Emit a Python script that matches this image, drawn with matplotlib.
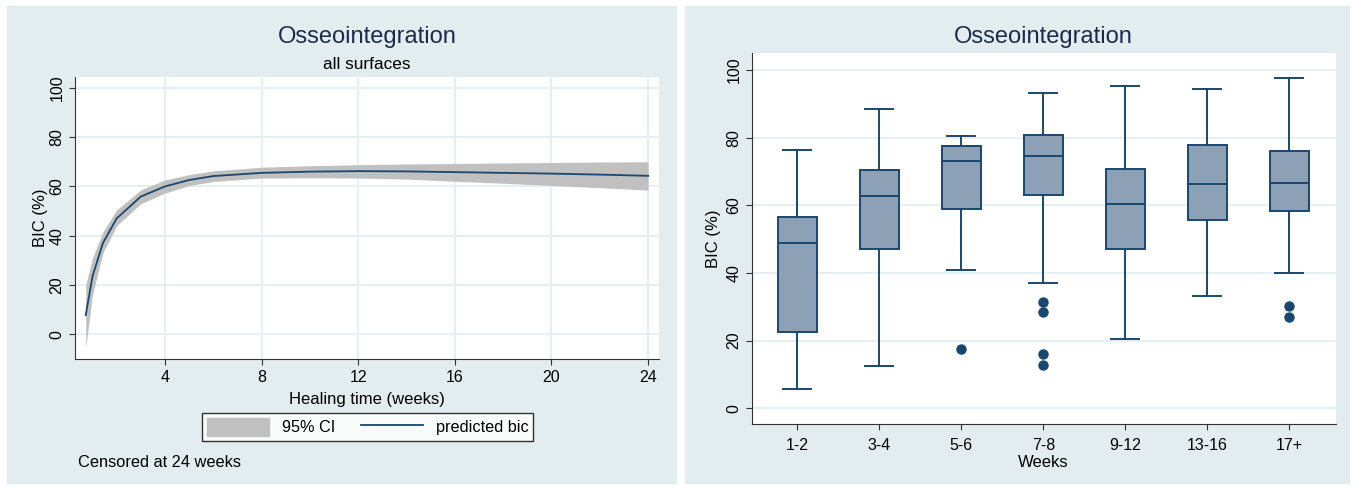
import matplotlib
matplotlib.use("Agg")
from matplotlib import pyplot as plt
from matplotlib.patches import Rectangle, Patch
from matplotlib.lines import Line2D

plt.rcParams['font.family'] = ['Liberation Sans', 'DejaVu Sans']

# left panel: predicted BIC over healing time
weeks = [0.72, 1.0, 1.43, 2.0, 3.0, 4.0, 5.0, 6.0, 8.0, 10.0, 12.0, 14.0, 16.0, 18.0, 20.0, 22.0, 24.0]
pred_bic = [7.8, 23.5, 37.0, 47.0, 55.9, 60.0, 62.6, 64.2, 65.5, 66.0, 66.2, 66.1, 65.8, 65.5, 65.2, 64.8, 64.3]
ci_low = [-5.5, 16.0, 33.0, 44.0, 53.0, 57.3, 60.4, 62.0, 63.4, 63.5, 63.4, 63.0, 62.1, 61.3, 60.4, 59.5, 58.5]
ci_high = [20.0, 31.0, 41.5, 50.5, 58.6, 62.6, 64.8, 66.3, 67.8, 68.4, 68.8, 69.1, 69.3, 69.5, 69.7, 69.9, 70.0]

# right panel: box plot by week group
groups = ['1-2', '3-4', '5-6', '7-8', '9-12', '13-16', '17+']
whisk_hi = [76.2, 88.4, 80.6, 93.3, 95.4, 94.5, 97.7]
q3 = [56.6, 70.4, 77.5, 80.8, 70.7, 77.8, 76.1]
med = [48.8, 62.8, 73.0, 74.5, 60.5, 66.4, 66.5]
q1 = [22.5, 47.2, 58.8, 63.0, 47.2, 55.7, 58.2]
whisk_lo = [5.7, 12.6, 40.8, 37.0, 20.5, 33.2, 40.0]
outliers = [[], [], [17.6], [31.4, 28.6, 15.9, 12.7], [], [], [30.1, 27.0]]

navy = '#1a476f'
title_col = '#1c2b4b'
panel_bg = '#e3edef'
grid_col = '#e7eff2'

fig = plt.figure(figsize=(13.54, 4.86), dpi=100)
fig.patches.append(Rectangle((7 / 1354, 1 - 483 / 486), 669 / 1354, 477 / 486,
                             transform=fig.transFigure, color=panel_bg, zorder=-10))
fig.patches.append(Rectangle((685 / 1354, 1 - 483 / 486), 664 / 1354, 477 / 486,
                             transform=fig.transFigure, color=panel_bg, zorder=-10))

# ---- left ----
ax1 = fig.add_axes([0.0554, 0.2607, 0.4313, 0.5815])
ax1.fill_between(weeks, ci_low, ci_high, color='#c0c0c0', lw=0)
ax1.plot(weeks, pred_bic, color=navy, lw=1.3)
ax1.set_xlim(0.277, 24.45)
ax1.set_ylim(-10.1, 104.5)
ax1.set_xticks([4, 8, 12, 16, 20, 24])
ax1.set_yticks([0, 20, 40, 60, 80, 100])
ax1.grid(True, color=grid_col, lw=1.5)
ax1.set_axisbelow(True)
ax1.set_xlabel("Healing time (weeks)", fontsize=12, labelpad=5)
ax1.set_ylabel("BIC (%)", fontsize=12, labelpad=1)
fig.text(367 / 1354, 1 - 37 / 486, "Osseointegration", ha='center', va='center',
         fontsize=17, color=title_col)
fig.text(367 / 1354, 1 - 64 / 486, "all surfaces", ha='center', va='center', fontsize=12.4)

leg = fig.legend(handles=[Patch(color='#c0c0c0', label='95% CI'),
                          Line2D([], [], color=navy, lw=1.3, label='predicted bic')],
                 ncol=2, loc='center', bbox_to_anchor=(367.5 / 1354, 1 - 427 / 486),
                 fontsize=11.7, frameon=True, fancybox=False, edgecolor='black',
                 handlelength=3.8, handleheight=1.3, columnspacing=1.6, borderpad=0.3)
leg.get_frame().set_linewidth(1.0)
fig.text(78 / 1354, 1 - 462 / 486, "Censored at 24 weeks", ha='left', va='center', fontsize=11.8)

# ---- right ----
ax2 = fig.add_axes([0.5552, 0.127, 0.4313, 0.7646])
stats = []
for i in range(len(groups)):
    stats.append(dict(label=groups[i], whislo=whisk_lo[i], q1=q1[i], med=med[i],
                      q3=q3[i], whishi=whisk_hi[i], fliers=outliers[i]))
ax2.bxp(stats, positions=range(1, len(groups) + 1), widths=0.48, patch_artist=True,
        boxprops=dict(facecolor='#8da1b6', edgecolor=navy, lw=1.4),
        medianprops=dict(color=navy, lw=1.4),
        whiskerprops=dict(color=navy, lw=1.4),
        capprops=dict(color=navy, lw=1.4), capwidths=0.34,
        flierprops=dict(marker='o', markerfacecolor=navy, markeredgecolor=navy, markersize=6.5))
ax2.set_xlim(0.444, 7.566)
ax2.set_ylim(-4.73, 105.1)
ax2.set_yticks([0, 20, 40, 60, 80, 100])
ax2.yaxis.grid(True, color=grid_col, lw=1.5)
ax2.set_axisbelow(True)
ax2.tick_params(axis='x', length=0, pad=6)
ax2.set_xlabel("Weeks", fontsize=12, labelpad=1)
ax2.set_ylabel("BIC (%)", fontsize=12, labelpad=4)
fig.text(1043.7 / 1354, 1 - 37 / 486, "Osseointegration", ha='center', va='center',
         fontsize=17, color=title_col)

for ax in (ax1, ax2):
    ax.set_facecolor('white')
    ax.spines['top'].set_visible(False)
    ax.spines['right'].set_visible(False)
    ax.spines['left'].set_color('#333333')
    ax.spines['bottom'].set_color('#333333')
    ax.tick_params(labelsize=11.5, color='#333333', length=4)
    for lab in ax.get_yticklabels():
        lab.set_rotation(90)
        lab.set_va('center')

fig.savefig("out.png", dpi=100)
